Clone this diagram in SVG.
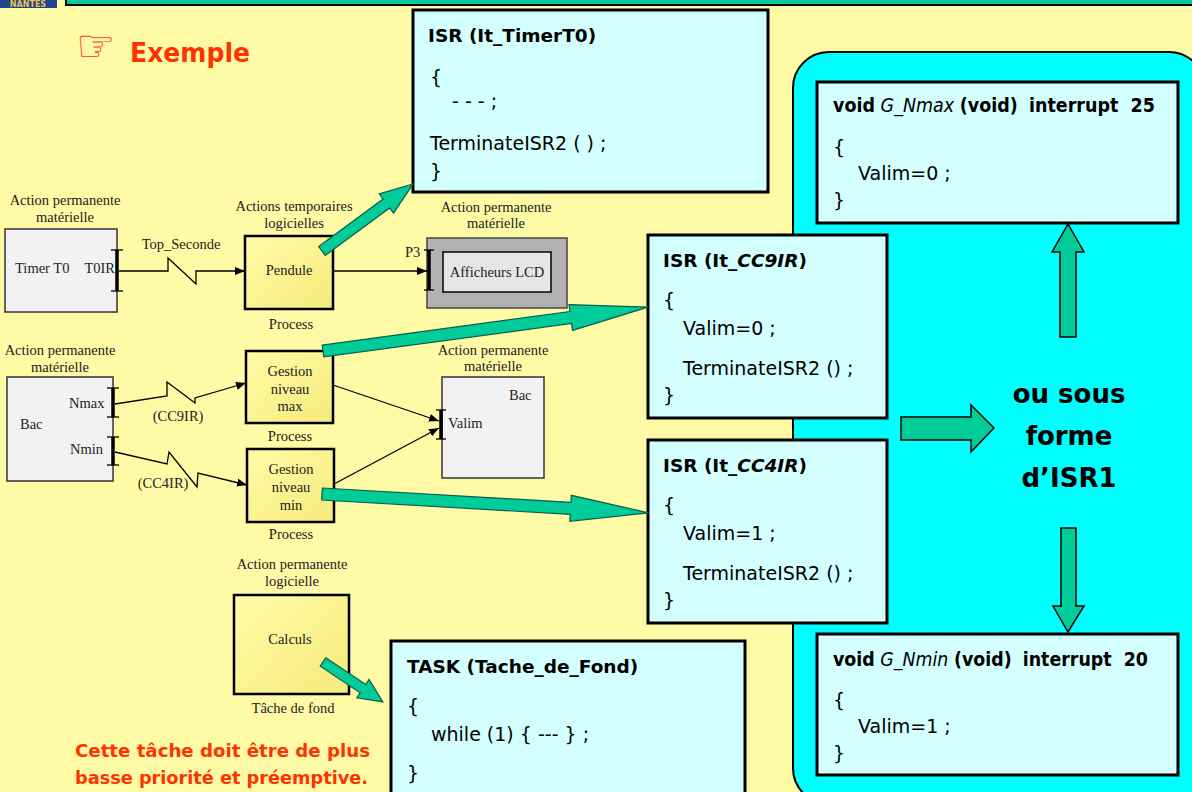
<svg xmlns="http://www.w3.org/2000/svg" width="1192" height="792" viewBox="0 0 1192 792">
<defs>
<style>
.lbl{font-family:"Liberation Serif","Times New Roman",serif;font-size:14.5px;fill:#222}
.mid{text-anchor:middle}
.code{font-family:"DejaVu Sans",sans-serif;font-size:19px;fill:#000}
.ttl{font-family:"DejaVu Sans",sans-serif;font-size:18.5px;font-weight:bold;fill:#000}
.b{font-weight:bold}
.it{font-style:italic;font-weight:normal}
.codebox{fill:#D4FFFF;stroke:#000;stroke-width:3}
.proc{fill:url(#yel);stroke:#000;stroke-width:2.5}
.hw{fill:#F2F2F2;stroke:#333;stroke-width:1.5}
.wire{fill:none;stroke:#000;stroke-width:1.3}
.port{stroke:#000;stroke-width:3.5}
.tick{stroke:#000;stroke-width:1.3}
.fat{fill:#00CC99;stroke:#0B5E4A;stroke-width:1.2}
.fat2{fill:#00CC99;stroke:#000;stroke-width:1.5}
.red{font-family:"DejaVu Sans",sans-serif;font-weight:bold;fill:#FF3300}
.big{font-family:"DejaVu Sans",sans-serif;font-weight:bold;font-size:26px;fill:#000;text-anchor:middle}
</style>
<linearGradient id="yel" x1="0" y1="0" x2="1" y2="1">
<stop offset="0" stop-color="#FFFCA8"/>
<stop offset="1" stop-color="#F6EA7A"/>
</linearGradient>
<marker id="ah" viewBox="0 0 10 8" refX="10" refY="4" markerWidth="10" markerHeight="8" markerUnits="userSpaceOnUse" orient="auto">
<path d="M0,0 L10,4 L0,8 z" fill="#000"/>
</marker>
</defs>

<!-- page background -->
<rect x="0" y="0" width="1192" height="792" fill="#FFFAA6"/>

<!-- header strip and logo -->
<g id="header">
<rect x="66" y="-10" width="1140" height="15" fill="#00CC99" stroke="#000" stroke-width="2"/>
<rect x="-2" y="-10" width="59" height="18" fill="#1F4590"/>
<text x="28" y="7" text-anchor="middle" font-family="DejaVu Sans,sans-serif" font-weight="bold" font-size="8" fill="#E8C24A">NANTES</text>
</g>

<!-- title -->
<g id="title">
<text x="76" y="61" font-family="DejaVu Sans,sans-serif" font-size="44" fill="#FF3333">☞</text>
<text x="130" y="62" class="red" font-size="27" textLength="120" lengthAdjust="spacingAndGlyphs">Exemple</text>
</g>

<!-- ISR1 region -->
<rect id="isr1-zone" x="793" y="52" width="412" height="752" rx="36" fill="#00FFFF" stroke="#000" stroke-width="2"/>

<!-- left functional diagram -->
<g id="timer">
<text class="lbl mid" x="65" y="205">Action permanente</text>
<text class="lbl mid" x="65" y="222">matérielle</text>
<rect class="hw" x="5" y="229" width="112" height="83"/>
<text class="lbl" x="15" y="273">Timer T0</text>
<text class="lbl" x="115" y="273" text-anchor="end">T0IR</text>
<line class="port" x1="117" y1="250" x2="117" y2="291"/>
<line class="tick" x1="111" y1="250" x2="123" y2="250"/>
<line class="tick" x1="111" y1="291" x2="123" y2="291"/>
</g>

<g id="pendule">
<text class="lbl mid" x="294" y="211">Actions temporaires</text>
<text class="lbl mid" x="294" y="228">logicielles</text>
<rect class="proc" x="245" y="236" width="88" height="73"/>
<text class="lbl mid" x="289" y="275">Pendule</text>
<text class="lbl mid" x="291" y="329">Process</text>
</g>

<g id="lcd">
<text class="lbl mid" x="496" y="212">Action permanente</text>
<text class="lbl mid" x="496" y="228">matérielle</text>
<rect x="427" y="238" width="140" height="70" fill="#B2B2B2" stroke="#444" stroke-width="1.5"/>
<rect x="443" y="252" width="108" height="40" fill="#E6E6E6" stroke="#000" stroke-width="1.5"/>
<text class="lbl mid" x="497" y="277">Afficheurs LCD</text>
<text class="lbl" x="405" y="257">P3</text>
<line class="port" x1="429" y1="250" x2="429" y2="290"/>
<line class="tick" x1="424" y1="250" x2="434" y2="250"/>
<line class="tick" x1="424" y1="290" x2="434" y2="290"/>
</g>

<g id="bac-sensors">
<text class="lbl mid" x="60" y="355">Action permanente</text>
<text class="lbl mid" x="60" y="372">matérielle</text>
<rect class="hw" x="7" y="377" width="106" height="104"/>
<text class="lbl" x="20" y="429">Bac</text>
<text class="lbl" x="69" y="408">Nmax</text>
<text class="lbl" x="70" y="454">Nmin</text>
<line class="port" x1="113" y1="388" x2="113" y2="417"/>
<line class="tick" x1="107" y1="388" x2="119" y2="388"/>
<line class="tick" x1="107" y1="417" x2="119" y2="417"/>
<line class="port" x1="113" y1="437" x2="113" y2="465"/>
<line class="tick" x1="107" y1="437" x2="119" y2="437"/>
<line class="tick" x1="107" y1="465" x2="119" y2="465"/>
</g>

<g id="gestion-max">
<rect class="proc" x="246" y="351" width="87" height="72"/>
<text class="lbl mid" x="290" y="376">Gestion</text>
<text class="lbl mid" x="290" y="394">niveau</text>
<text class="lbl mid" x="290" y="411">max</text>
<text class="lbl mid" x="290" y="441">Process</text>
</g>

<g id="gestion-min">
<rect class="proc" x="247" y="449" width="87" height="73"/>
<text class="lbl mid" x="291" y="474">Gestion</text>
<text class="lbl mid" x="291" y="492">niveau</text>
<text class="lbl mid" x="291" y="510">min</text>
<text class="lbl mid" x="291" y="539">Process</text>
</g>

<g id="bac-valve">
<text class="lbl mid" x="493" y="355">Action permanente</text>
<text class="lbl mid" x="493" y="371">matérielle</text>
<rect class="hw" x="442" y="377" width="102" height="101"/>
<text class="lbl" x="509" y="400">Bac</text>
<text class="lbl" x="448" y="428">Valim</text>
<line class="port" x1="441" y1="410" x2="441" y2="439"/>
<line class="tick" x1="436" y1="410" x2="446" y2="410"/>
<line class="tick" x1="436" y1="439" x2="446" y2="439"/>
</g>

<g id="calculs">
<text class="lbl mid" x="292" y="569">Action permanente</text>
<text class="lbl mid" x="292" y="586">logicielle</text>
<rect class="proc" x="234" y="595" width="115" height="99"/>
<text class="lbl mid" x="290" y="644">Calculs</text>
<text class="lbl mid" x="293" y="713">Tâche de fond</text>
</g>

<g id="note">
<text class="red" x="75" y="757" font-size="17" textLength="295" lengthAdjust="spacingAndGlyphs">Cette tâche doit être de plus</text>
<text class="red" x="75" y="784" font-size="17" textLength="293" lengthAdjust="spacingAndGlyphs">basse priorité et préemptive.</text>
</g>

<!-- code listings -->
<g id="isr-timer">
<rect class="codebox" x="413" y="10" width="355" height="182"/>
<text class="ttl" x="428" y="42">ISR (It_TimerT0)</text>
<text class="code" x="430" y="84">{</text>
<text class="code" x="452" y="108">- - - ;</text>
<text class="code" x="430" y="150">TerminateISR2 ( ) ;</text>
<text class="code" x="430" y="178">}</text>
</g>

<g id="isr-cc9">
<rect class="codebox" x="648" y="235" width="239" height="183"/>
<text class="ttl" x="663" y="267">ISR (It_<tspan font-style="italic">CC9IR</tspan>)</text>
<text class="code" x="663" y="307">{</text>
<text class="code" x="683" y="335">Valim=0 ;</text>
<text class="code" x="683" y="375">TerminateISR2 () ;</text>
<text class="code" x="663" y="402">}</text>
</g>

<g id="isr-cc4">
<rect class="codebox" x="648" y="440" width="239" height="183"/>
<text class="ttl" x="663" y="472">ISR (It_<tspan font-style="italic">CC4IR</tspan>)</text>
<text class="code" x="663" y="512">{</text>
<text class="code" x="683" y="540">Valim=1 ;</text>
<text class="code" x="683" y="580">TerminateISR2 () ;</text>
<text class="code" x="663" y="607">}</text>
</g>

<g id="g-nmax">
<rect class="codebox" x="817" y="82" width="361" height="141"/>
<text class="code" x="833" y="112" style="white-space:pre" textLength="322" lengthAdjust="spacingAndGlyphs"><tspan class="b">void</tspan> <tspan class="it">G_Nmax</tspan> <tspan class="b">(void)</tspan>  <tspan class="b">interrupt  25</tspan></text>
<text class="code" x="833" y="154">{</text>
<text class="code" x="858" y="180">Valim=0 ;</text>
<text class="code" x="833" y="207">}</text>
</g>

<g id="g-nmin">
<rect class="codebox" x="817" y="634" width="361" height="141"/>
<text class="code" x="833" y="666" style="white-space:pre" textLength="315" lengthAdjust="spacingAndGlyphs"><tspan class="b">void</tspan> <tspan class="it">G_Nmin</tspan> <tspan class="b">(void)</tspan>  <tspan class="b">interrupt  20</tspan></text>
<text class="code" x="833" y="707">{</text>
<text class="code" x="858" y="733">Valim=1 ;</text>
<text class="code" x="833" y="760">}</text>
</g>

<g id="task">
<rect class="codebox" x="391" y="641" width="354" height="170"/>
<text class="ttl" x="407" y="673">TASK (Tache_de_Fond)</text>
<text class="code" x="407" y="713">{</text>
<text class="code" x="431" y="741">while (1) { --- } ;</text>
<text class="code" x="407" y="780">}</text>
</g>

<g id="isr1-label">
<text class="big" x="1069" y="403">ou sous</text>
<text class="big" x="1069" y="445">forme</text>
<text class="big" x="1069" y="487">d’ISR1</text>
</g>

<!-- connectors -->
<g id="connectors">
<polyline class="wire" points="119,271 168,271 168,258 196,284 196,271 245,271" marker-end="url(#ah)"/>
<text class="lbl mid" x="181" y="249">Top_Seconde</text>
<line class="wire" x1="333" y1="271" x2="427" y2="271" marker-end="url(#ah)"/>
<polyline class="wire" points="115,404 167,396 167,382 195,403 195,398 246,383" marker-end="url(#ah)"/>
<text class="lbl mid" x="178" y="421">(CC9IR)</text>
<polyline class="wire" points="115,452 167,464 169,452 197,487 198,473 247,485" marker-end="url(#ah)"/>
<text class="lbl mid" x="163" y="488">(CC4IR)</text>
<line class="wire" x1="333" y1="385" x2="439" y2="421" marker-end="url(#ah)"/>
<line class="wire" x1="334" y1="484" x2="439" y2="428" marker-end="url(#ah)"/>

<polygon class="fat" transform="translate(322,251) rotate(-36.4)" points="0,-5.5 80,-5.5 80,-12 113,0 80,12 80,5.5 0,5.5"/>
<polygon class="fat" transform="translate(323,351) rotate(-7.7)" points="0,-6 250,-6 250,-13 328,0 250,13 250,6 0,6"/>
<polygon class="fat" transform="translate(322,494) rotate(3.3)" points="0,-6 249,-6 249,-13 327,0 249,13 249,6 0,6"/>
<polygon class="fat" transform="translate(323,662) rotate(33.7)" points="0,-5 48,-5 48,-11 72,0 48,11 48,5 0,5"/>

<polygon class="fat2" points="1060,337 1076,337 1076,252 1084,252 1068,224 1052,252 1060,252"/>
<polygon class="fat2" points="1061,528 1076,528 1076,606 1084,606 1068,632 1053,606 1061,606"/>
<polygon class="fat2" points="901,417 971,417 971,405 994,428 971,452 971,440 901,440"/>
</g>
</svg>
